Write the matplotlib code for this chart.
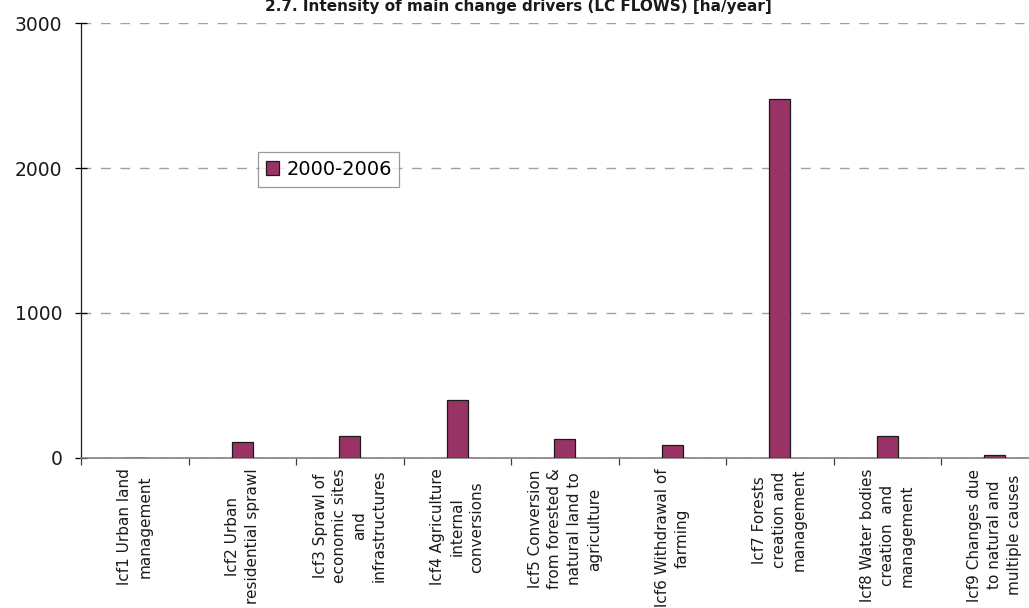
import matplotlib
matplotlib.use("Agg")
import matplotlib.pyplot as plt
import numpy as np

categories = [
    "lcf1 Urban land\nmanagement",
    "lcf2 Urban\nresidential sprawl",
    "lcf3 Sprawl of\neconomic sites\nand\ninfrastructures",
    "lcf4 Agriculture\ninternal\nconversions",
    "lcf5 Conversion\nfrom forested &\nnatural land to\nagriculture",
    "lcf6 Withdrawal of\nfarming",
    "lcf7 Forests\ncreation and\nmanagement",
    "lcf8 Water bodies\ncreation  and\nmanagement",
    "lcf9 Changes due\nto natural and\nmultiple causes",
]
values_2000_2006 = [0, 110, 150, 400, 125, 85, 2475, 150, 15]
series_name = "2000-2006"
y_ticks = [0, 1000, 2000, 3000]
title = "2.7. Intensity of main change drivers (LC FLOWS) [ha/year]"

W, H = 1029, 608
fig = plt.figure(figsize=(W / 100, H / 100), dpi=100)
ax = fig.add_axes([81 / W, (H - 457.5) / H, 967.5 / W, 434.2 / H])

x = np.arange(len(categories))
ax.bar(x, values_2000_2006, width=0.195, color="#993366", edgecolor="#1a1a1a",
       linewidth=0.9, zorder=3, label=series_name)

ax.set_xlim(-0.5, len(categories) - 0.5)
ax.set_ylim(0, 3000)
ax.set_yticks(y_ticks)
ax.set_yticklabels([str(v) for v in y_ticks], fontsize=13.5, color="#1a1a1a")
ax.tick_params(axis="y", direction="inout", length=9, width=0.9, pad=9)

ax.set_xticks(x)
ax.set_xticklabels(categories, rotation=90, fontsize=11, ha="center", va="top",
                   multialignment="center", linespacing=1.4, color="#1a1a1a")
ax.tick_params(axis="x", which="major", length=0, pad=8)
ax.set_xticks(np.arange(len(categories) + 1) - 0.5, minor=True)
ax.tick_params(axis="x", which="minor", length=5, width=0.9, color="#404040", direction="out")

ax.yaxis.grid(True, linestyle=(0, (7, 7)), color="#a0a0a0", linewidth=1.0, zorder=0)
ax.set_axisbelow(True)
for s in ["top", "right"]:
    ax.spines[s].set_visible(False)
ax.spines["left"].set_color("#1a1a1a")
ax.spines["left"].set_linewidth(0.9)
ax.spines["bottom"].set_color("#808080")
ax.spines["bottom"].set_linewidth(1.2)

leg = ax.legend(loc="upper left", bbox_to_anchor=((258 - 81) / 967.5, (457.5 - 152) / 434.2),
                fontsize=14, frameon=True, fancybox=False, edgecolor="#808080",
                handlelength=0.7, handleheight=0.7, handletextpad=0.35,
                borderpad=0.4, borderaxespad=0)
leg.get_frame().set_linewidth(0.9)
leg.set_zorder(5)

fig.text(518 / W, 1 - 11 / H, title, ha="center", va="baseline", fontsize=11,
         fontweight="bold", color="#1a1a1a")

fig.savefig("out.png", dpi=100)
